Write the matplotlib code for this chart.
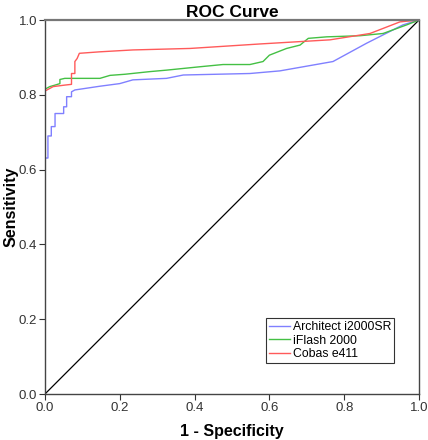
import matplotlib
matplotlib.use("Agg")
import matplotlib.pyplot as plt

plt.rcParams["font.family"] = ["Liberation Sans", "DejaVu Sans"]

# ROC points (1 - specificity, sensitivity)
arch_fpr = [0.0, 0.0, 0.008, 0.008, 0.017, 0.017, 0.027, 0.027, 0.05, 0.05, 0.058, 0.058,
            0.071, 0.071, 0.08, 0.147, 0.2, 0.235, 0.325, 0.37, 0.548, 0.628, 0.77, 0.86, 0.957, 1.0]
arch_tpr = [0.0, 0.631, 0.631, 0.69, 0.69, 0.715, 0.715, 0.75, 0.75, 0.768, 0.768, 0.795,
            0.795, 0.808, 0.813, 0.823, 0.83, 0.84, 0.844, 0.853, 0.857, 0.864, 0.889, 0.938, 0.987, 1.0]

iflash_fpr = [0.0, 0.0, 0.013, 0.027, 0.04, 0.04, 0.053, 0.147, 0.174, 0.214, 0.28, 0.325,
              0.414, 0.476, 0.548, 0.583, 0.6, 0.646, 0.682, 0.704, 0.753, 0.842, 0.904, 0.967, 1.0]
iflash_tpr = [0.0, 0.815, 0.822, 0.826, 0.83, 0.841, 0.844, 0.844, 0.852, 0.855, 0.862, 0.866,
              0.875, 0.881, 0.881, 0.889, 0.906, 0.924, 0.933, 0.951, 0.955, 0.958, 0.964, 0.987, 1.0]

cobas_fpr = [0.0, 0.0, 0.022, 0.053, 0.071, 0.071, 0.08, 0.08, 0.086, 0.092, 0.147, 0.235,
             0.388, 0.575, 0.762, 0.869, 0.949, 1.0]
cobas_tpr = [0.0, 0.81, 0.822, 0.826, 0.828, 0.857, 0.857, 0.889, 0.897, 0.911, 0.915, 0.92,
             0.924, 0.936, 0.947, 0.964, 0.995, 1.0]

labels = ["Architect i2000SR", "iFlash 2000", "Cobas e411"]
ticks = [0.0, 0.2, 0.4, 0.6, 0.8, 1.0]

fig = plt.figure(figsize=(4.28, 4.4), dpi=100)
ax = fig.add_axes([0.105, 0.1045, 0.874, 0.85])

ax.plot([0, 1], [0, 1], color="black", lw=0.9)
ax.plot(arch_fpr, arch_tpr, color="#8080ff", lw=1.0, label=labels[0])
ax.plot(iflash_fpr, iflash_tpr, color="#44c044", lw=1.0, label=labels[1])
ax.plot(cobas_fpr, cobas_tpr, color="#ff5a5a", lw=1.0, label=labels[2])

ax.set_xlim(0, 1)
ax.set_ylim(0, 1)
ax.set_xticks(ticks)
ax.set_yticks(ticks)
ax.set_xticklabels([f"{t:.1f}" for t in ticks])
ax.set_yticklabels([f"{t:.1f}" for t in ticks])
ax.tick_params(direction="out", length=4, width=0.8, labelsize=9.5,
               colors="#333333", pad=1.5)
for s in ax.spines.values():
    s.set_color("#444444")
    s.set_linewidth(1.0)
ax.spines["top"].set_color("#777777")
ax.spines["top"].set_linewidth(1.6)

ax.set_title("ROC Curve", fontsize=12.5, fontweight="bold", pad=1.5)
ax.set_xlabel("1 - Specificity", fontsize=11.5, fontweight="bold")
ax.set_ylabel("Sensitivity", fontsize=11.5, fontweight="bold")
ax.xaxis.set_label_coords(0.5, -0.08)
ax.yaxis.set_label_coords(-0.07, 0.5)

leg = ax.legend(loc="lower right", bbox_to_anchor=(0.933, 0.083),
                fontsize=8.8, frameon=True, fancybox=False,
                handlelength=1.7, handletextpad=0.2, borderpad=0.25,
                labelspacing=0.1, borderaxespad=0)
leg.get_frame().set_edgecolor("black")
leg.get_frame().set_linewidth(0.8)

fig.savefig("out.png", dpi=100)
